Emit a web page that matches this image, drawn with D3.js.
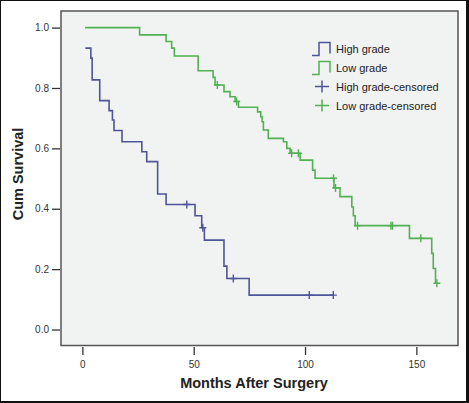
<!DOCTYPE html>
<html><head><meta charset="utf-8">
<script src="https://cdn.jsdelivr.net/npm/d3@7"></script>
<style>
html,body{margin:0;padding:0;background:#fff;}
svg{display:block;font-family:Arial,"Liberation Sans",sans-serif;}
</style></head>
<body>
<svg id="chart" width="469" height="403"></svg>
<script>
// ---- data ----
const highTimes = [1.35, 3.8, 4.4, 7.8, 12.0, 13.5, 14.2, 17.8, 26.7, 28.9, 33.8, 37.6, 50.6, 53.6, 54.8, 63.6, 64.9, 74.9];
const highSurv  = [0.932, 0.899, 0.827, 0.758, 0.725, 0.694, 0.659, 0.622, 0.589, 0.556, 0.449, 0.414, 0.377, 0.337, 0.296, 0.210, 0.169, 0.114];
const highEnd = 112.7;
const highCensorTimes = [46.9, 54.1, 67.8, 101.9, 112.7];
const highCensorSurv  = [0.414, 0.337, 0.169, 0.114, 0.114];

const lowTimes = [1.2, 25.7, 37.6, 40.1, 41.3, 52.0, 58.7, 59.6, 63.6, 66.3, 68.6, 70.1, 78.7, 80.1, 80.7, 81.3, 83.5, 90.3, 91.8, 93.3, 97.8, 103.4, 104.5, 113.0, 115.7, 121.0, 121.7, 122.5, 146.9, 156.9, 157.6, 158.6];
const lowSurv  = [1.0, 0.976, 0.954, 0.932, 0.906, 0.857, 0.835, 0.810, 0.788, 0.771, 0.755, 0.736, 0.721, 0.705, 0.688, 0.661, 0.633, 0.622, 0.600, 0.584, 0.561, 0.528, 0.501, 0.469, 0.440, 0.406, 0.377, 0.344, 0.302, 0.252, 0.202, 0.153];
const lowEnd = 159.2;
const lowCensorTimes = [60.6, 69.3, 94.0, 97.0, 112.8, 113.7, 123.6, 138.6, 139.3, 152.0, 159.2];
const lowCensorSurv  = [0.810, 0.755, 0.584, 0.584, 0.501, 0.469, 0.344, 0.344, 0.344, 0.302, 0.153];

const xTicks = [0, 50, 100, 150];
const yTicks = [0.0, 0.2, 0.4, 0.6, 0.8, 1.0];
const legendLabels = ["High grade", "Low grade", "High grade-censored", "Low grade-censored"];
const xTitle = "Months After Surgery";
const yTitle = "Cum Survival";

// ---- drawing ----
const blue = "#4f5599", green = "#52b152";
const svg = d3.select("#chart");
const L = 61, R = 458, T = 11, B = 345.5;
const x = d3.scaleLinear().domain([-9.6, 168.7]).range([L, R]);
const y = d3.scaleLinear().domain([-0.053, 1.055]).range([B, T]);

// outer frame
svg.append("rect").attr("x",0).attr("y",0).attr("width",469).attr("height",403).attr("fill","#fff");
svg.append("rect").attr("x",L).attr("y",T).attr("width",R-L).attr("height",B-T)
  .attr("fill","#f1f2f2").attr("stroke","#555").attr("stroke-width",1.5);

// y axis
const yAx = svg.append("g").attr("transform",`translate(${L-1},0)`)
  .call(d3.axisLeft(y).tickValues(yTicks).tickFormat(d3.format(".1f")).tickSize(8).tickPadding(3));
yAx.select(".domain").remove();
yAx.selectAll("line").attr("stroke","#333").attr("stroke-width",1.3);
yAx.selectAll("text").attr("font-size","10px").attr("fill","#333").attr("font-family","Arial, 'Liberation Sans', sans-serif");

// x axis
const xAx = svg.append("g").attr("transform",`translate(0,${B+1.5})`)
  .call(d3.axisBottom(x).tickValues(xTicks).tickFormat(d3.format("d")).tickSize(8).tickPadding(6));
xAx.select(".domain").remove();
xAx.selectAll("line").attr("stroke","#333").attr("stroke-width",1.3);
xAx.selectAll("text").attr("font-size","10px").attr("fill","#333").attr("font-family","Arial, 'Liberation Sans', sans-serif");

// titles
svg.append("text").attr("x",254).attr("y",388).attr("text-anchor","middle")
  .attr("font-size","14.5px").attr("font-weight","bold").attr("fill","#222").text(xTitle);
svg.append("text").attr("transform","translate(23,174) rotate(-90)").attr("text-anchor","middle")
  .attr("font-size","14.5px").attr("font-weight","bold").attr("fill","#222").text(yTitle);

// curves
const line = d3.line().x(d=>x(d[0])).y(d=>y(d[1])).curve(d3.curveStepAfter);
function drawCurve(times, surv, end, cT, cS, color){
  const pts = times.map((t,i)=>[t, surv[i]]);
  pts.push([end, surv[surv.length-1]]);
  svg.append("path").attr("d", line(pts)).attr("fill","none").attr("stroke",color).attr("stroke-width",1.6);
  const g = svg.append("g");
  cT.forEach((t,i)=>{
    const cx = x(t), cy = y(cS[i]);
    g.append("path").attr("d",`M${cx-3.5},${cy}H${cx+3.5}M${cx},${cy-4}V${cy+4}`)
      .attr("stroke",color).attr("stroke-width",1.4).attr("fill","none");
  });
}
drawCurve(highTimes, highSurv, highEnd, highCensorTimes, highCensorSurv, blue);
drawCurve(lowTimes, lowSurv, lowEnd, lowCensorTimes, lowCensorSurv, green);

// legend
const lg = svg.append("g");
const rows = [48.5, 67.5, 86.5, 105.5];
const colors = [blue, green, blue, green];
legendLabels.forEach((lab,i)=>{
  const cy = rows[i];
  if(i<2){
    lg.append("path").attr("d",`M312,${cy+7}H319V${cy-6}H330V${cy+5}`)
      .attr("fill","none").attr("stroke",colors[i]).attr("stroke-width",1.5);
  } else {
    lg.append("path").attr("d",`M315,${cy}H329M322,${cy-6}V${cy+6}`)
      .attr("fill","none").attr("stroke",colors[i]).attr("stroke-width",1.5);
  }
  lg.append("text").attr("x",336).attr("y",cy+4).attr("font-size","11px").attr("fill","#222").text(lab);
});

// image border
svg.append("rect").attr("x",0.5).attr("y",0.5).attr("width",467).attr("height",401)
  .attr("fill","none").attr("stroke","#111").attr("stroke-width",1);
svg.append("rect").attr("x",466).attr("y",0).attr("width",3).attr("height",403).attr("fill","#111");
svg.append("rect").attr("x",0).attr("y",401).attr("width",469).attr("height",2).attr("fill","#111");
</script>
</body></html>
